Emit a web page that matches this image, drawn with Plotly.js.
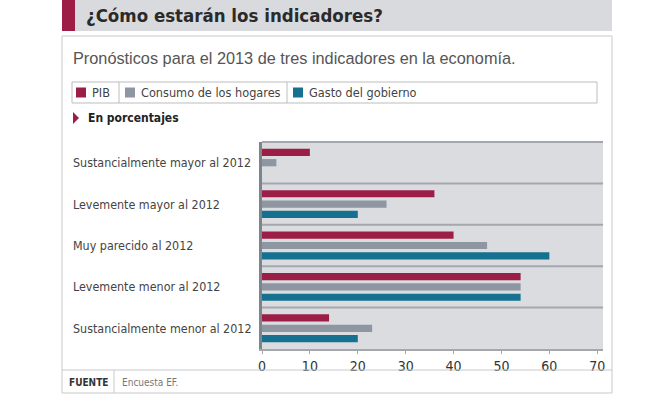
<!DOCTYPE html>
<html>
<head>
<meta charset="utf-8">
<script src="https://cdn.plot.ly/plotly-3.0.1.min.js"></script>
<style>
html,body{margin:0;padding:0;background:#fff;}
#chart{width:653px;height:398px;}
</style>
</head>
<body>
<div id="chart"></div>
<script>
const categories = [
  "Sustancialmente mayor al 2012",
  "Levemente mayor al 2012",
  "Muy parecido al 2012",
  "Levemente menor al 2012",
  "Sustancialmente menor al 2012"
];
const seriesNames = ["PIB", "Consumo de los hogares", "Gasto del gobierno"];
const pib = [10, 36, 40, 54, 14];
const consumo = [3, 26, 47, 54, 23];
const gasto = [0, 20, 60, 54, 20];
const tickVals = [0, 10, 20, 30, 40, 50, 60, 70];

const colors = ["#9c1e47", "#8d96a1", "#16708f"];
const narrow = "DejaVu Sans Condensed, Liberation Sans Narrow, Roboto, sans-serif";

const traces = [pib, consumo, gasto].map((vals, i) => ({
  type: "bar",
  orientation: "h",
  name: seriesNames[i],
  y: categories,
  x: vals,
  marker: {color: colors[i]},
  hoverinfo: "x+name"
}));

// plot area: x 262..603, y 142..349
const L = 262, R = 603, T = 142, B = 349, W = 653, H = 398;
const px = x => (x - L) / (R - L);
const py = y => (B - y) / (B - T);

const shapes = [];
const annotations = [];

// title strip
shapes.push({type:"rect", xref:"paper", yref:"paper", x0:px(62), x1:px(612), y0:py(31), y1:py(0), fillcolor:"#d9dadd", line:{width:0}, layer:"below"});
shapes.push({type:"rect", xref:"paper", yref:"paper", x0:px(62), x1:px(75), y0:py(31), y1:py(0), fillcolor:"#9c1e47", line:{width:0}, layer:"below"});
annotations.push({xref:"paper", yref:"paper", x:px(84), y:py(16), xanchor:"left", yanchor:"middle", showarrow:false,
  text:"<b>¿Cómo estarán los indicadores?</b>", font:{family:narrow, size:18.5, color:"#2a2a2a"}});

// outer box
shapes.push({type:"rect", xref:"paper", yref:"paper", x0:px(62), x1:px(612), y0:py(393), y1:py(36), fillcolor:"rgba(0,0,0,0)", line:{color:"#c9c9c9", width:1}, layer:"below"});

// subtitle
annotations.push({xref:"paper", yref:"paper", x:px(71), y:py(58), xanchor:"left", yanchor:"middle", showarrow:false,
  text:"Pronósticos para el 2013 de tres indicadores en la economía.", font:{family:"Liberation Sans, Arial, sans-serif", size:16.3, color:"#555"}});

// legend box
shapes.push({type:"rect", xref:"paper", yref:"paper", x0:px(72), x1:px(597), y0:py(103), y1:py(82), fillcolor:"#fff", line:{color:"#bdbdbd", width:1}, layer:"below"});
const legX = [76, 125, 293];
const sepX = [119, 287];
sepX.forEach(s => shapes.push({type:"line", xref:"paper", yref:"paper", x0:px(s), x1:px(s), y0:py(103), y1:py(82), line:{color:"#bdbdbd", width:1}}));
seriesNames.forEach((n, i) => {
  shapes.push({type:"rect", xref:"paper", yref:"paper", x0:px(legX[i]), x1:px(legX[i]+10), y0:py(97.5), y1:py(87.5), fillcolor:colors[i], line:{width:0}});
  annotations.push({xref:"paper", yref:"paper", x:px(legX[i]+14), y:py(92.5), xanchor:"left", yanchor:"middle", showarrow:false,
    text:n, font:{family:narrow, size:12.6, color:"#444"}});
});

// "En porcentajes"
shapes.push({type:"path", xref:"paper", yref:"paper", path:"M " + px(73) + " " + py(112) + " L " + px(79) + " " + py(118) + " L " + px(73) + " " + py(124) + " Z", fillcolor:"#9c1e47", line:{width:0}});
annotations.push({xref:"paper", yref:"paper", x:px(86), y:py(118), xanchor:"left", yanchor:"middle", showarrow:false,
  text:"<b>En porcentajes</b>", font:{family:narrow, size:12, color:"#222"}});

// separators inside plot
for (let k = 0; k <= 4; k++) {
  shapes.push({type:"line", xref:"paper", yref:"paper", x0:0, x1:1, y0:1 - k/5, y1:1 - k/5, line:{color:"#a3a8ae", width:2}});
}

// category labels, left aligned
categories.forEach(c => {
  annotations.push({xref:"paper", yref:"y", x:px(71), y:c, xanchor:"left", yanchor:"middle", showarrow:false,
    text:c, font:{family:narrow, size:12.4, color:"#444"}});
});

// footer
shapes.push({type:"line", xref:"paper", yref:"paper", x0:px(62), x1:px(612), y0:py(370), y1:py(370), line:{color:"#c9c9c9", width:1}});
shapes.push({type:"line", xref:"paper", yref:"paper", x0:px(114), x1:px(114), y0:py(370), y1:py(393), line:{color:"#c9c9c9", width:1}});
annotations.push({xref:"paper", yref:"paper", x:px(67), y:py(382), xanchor:"left", yanchor:"middle", showarrow:false,
  text:"<b>FUENTE</b>", font:{family:narrow, size:10, color:"#333"}});
annotations.push({xref:"paper", yref:"paper", x:px(120), y:py(382), xanchor:"left", yanchor:"middle", showarrow:false,
  text:"Encuesta EF.", font:{family:narrow, size:10, color:"#777"}});

const layout = {
  width: W, height: H,
  margin: {l: L, r: W - R, t: T, b: H - B, pad: 0},
  paper_bgcolor: "#fff",
  plot_bgcolor: "#dadcdf",
  barmode: "group",
  bargap: 0.25,
  bargroupgap: 0.3,
  showlegend: false,
  xaxis: {
    range: [0, 71.2], tickvals: tickVals, ticktext: tickVals.map(String),
    showgrid: false, zeroline: false,
    showline: true, linecolor: "#a3a8ae", linewidth: 2,
    ticks: "outside", ticklen: 3, tickcolor: "#a3a8ae",
    tickfont: {family: narrow, size: 14, color: "#333"}, fixedrange: true
  },
  yaxis: {
    autorange: "reversed", showticklabels: false, showgrid: false, zeroline: false,
    showline: true, linecolor: "#7e848b", linewidth: 3, ticks: "", fixedrange: true
  },
  shapes: shapes,
  annotations: annotations
};

Plotly.newPlot("chart", traces, layout, {displayModeBar: false, staticPlot: true});
</script>
</body>
</html>
